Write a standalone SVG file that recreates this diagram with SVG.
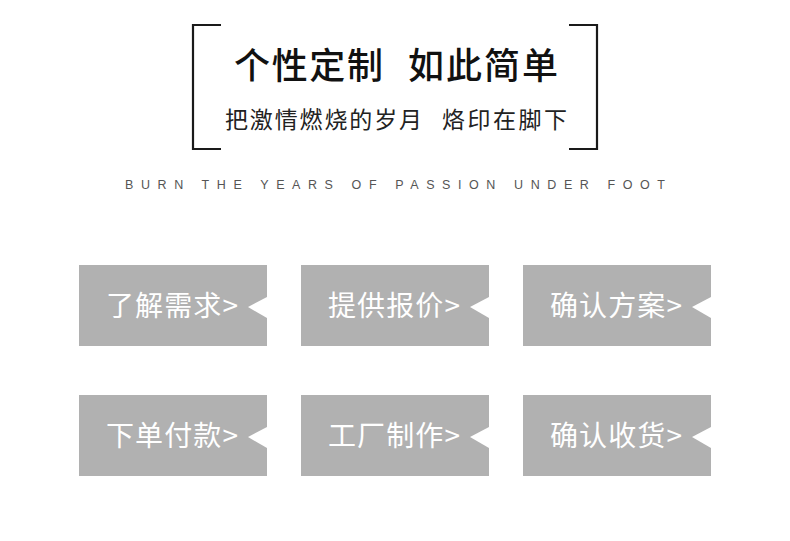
<svg xmlns="http://www.w3.org/2000/svg" width="790" height="541" viewBox="0 0 790 541">
<style>
.br{fill:none;stroke:#1a1a1a;stroke-width:2.2}
.box{fill:#b1b1b1}
.notch{fill:#fff}
.lbl{font-family:"Noto Sans CJK SC","Noto Sans",sans-serif;font-size:28px;fill:#fff}
.t1{font-family:"Noto Sans CJK SC",sans-serif;font-size:36px;fill:#111;font-weight:500}
.t2{font-family:"Noto Sans CJK SC",sans-serif;font-size:23px;fill:#222}
.en{font-family:"Liberation Sans",sans-serif;font-size:12.5px;fill:#555}
</style>
<rect width="790" height="541" fill="#fff"/>
<g id="header">
<path class="br" d="M221,25 H193 V149 H221"/>
<path class="br" d="M569,25 H597 V149 H569"/>
<text class="t1" x="234" y="79" textLength="149" lengthAdjust="spacing">个性定制</text>
<text class="t1" x="408" y="79" textLength="150" lengthAdjust="spacing">如此简单</text>
<text class="t2" x="225" y="128" textLength="197" lengthAdjust="spacing">把激情燃烧的岁月</text>
<text class="t2" x="442" y="128" textLength="125" lengthAdjust="spacing">烙印在脚下</text>
<text class="en" x="125" y="189" textLength="540" lengthAdjust="spacing">BURN THE YEARS OF PASSION UNDER FOOT</text>
</g>
<g id="n1"><rect class="box" x="79" y="265" width="188" height="81"/><polygon class="notch" points="267,297 248,307 267,318"/><text class="lbl" x="106" y="316" textLength="132" lengthAdjust="spacing">了解需求&gt;</text></g>
<g id="n2"><rect class="box" x="301" y="265" width="188" height="81"/><polygon class="notch" points="489,297 470,307 489,318"/><text class="lbl" x="328" y="316" textLength="132" lengthAdjust="spacing">提供报价&gt;</text></g>
<g id="n3"><rect class="box" x="523" y="265" width="188" height="81"/><polygon class="notch" points="711,297 692,307 711,318"/><text class="lbl" x="550" y="316" textLength="132" lengthAdjust="spacing">确认方案&gt;</text></g>
<g id="n4"><rect class="box" x="79" y="395" width="188" height="81"/><polygon class="notch" points="267,427 248,437 267,448"/><text class="lbl" x="106" y="446" textLength="132" lengthAdjust="spacing">下单付款&gt;</text></g>
<g id="n5"><rect class="box" x="301" y="395" width="188" height="81"/><polygon class="notch" points="489,427 470,437 489,448"/><text class="lbl" x="328" y="446" textLength="132" lengthAdjust="spacing">工厂制作&gt;</text></g>
<g id="n6"><rect class="box" x="523" y="395" width="188" height="81"/><polygon class="notch" points="711,427 692,437 711,448"/><text class="lbl" x="550" y="446" textLength="132" lengthAdjust="spacing">确认收货&gt;</text></g>
<g id="connectors"/>
</svg>
